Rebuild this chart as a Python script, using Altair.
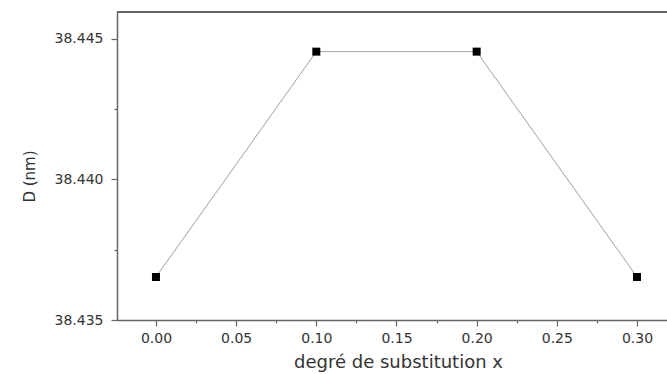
import altair as alt
import pandas as pd

x_vals = [0.0, 0.1, 0.2, 0.3]
d_vals = [38.43653, 38.44455, 38.44455, 38.43653]

x_ticks = [0.0, 0.025, 0.05, 0.075, 0.10, 0.125, 0.15, 0.175, 0.20, 0.225, 0.25, 0.275, 0.30]
y_ticks = [38.435, 38.4375, 38.440, 38.4425, 38.445]

df = pd.DataFrame({"x": x_vals, "D": d_vals})

FONT = "DejaVu Sans"
AX = "#666666"
W = 550
H = 308

x_enc = alt.X(
    "x:Q",
    scale=alt.Scale(domain=[-0.0243, 0.3187], nice=False, zero=False),
    axis=alt.Axis(
        title="degré de substitution x",
        values=x_ticks,
        format=".2f",
        labelExpr="abs(datum.value*20 - round(datum.value*20)) < 0.01 ? datum.label : ''",
        tickSize={"condition": {"test": "abs(datum.value*20 - round(datum.value*20)) < 0.01", "value": 6}, "value": 3},
        grid=False,
        domainColor=AX,
        domainWidth=1.5,
        tickColor=AX,
        tickWidth=1.2,
        labelFont=FONT,
        labelFontSize=14,
        labelColor="#333333",
        labelPadding=16,
        labelBaseline="alphabetic",
        labelFlush=False,
        titleFont=FONT,
        titleFontSize=18,
        titleFontWeight="normal",
        titleColor="#333333",
        titleBaseline="alphabetic",
        titleY=47,
        titleX=281,
    ),
)

y_enc = alt.Y(
    "D:Q",
    scale=alt.Scale(domain=[38.435, 38.44596], nice=False, zero=False),
    axis=alt.Axis(
        title="D (nm)",
        values=y_ticks,
        format=".3f",
        labelExpr="abs(datum.value*200 - round(datum.value*200)) < 0.01 ? datum.label : ''",
        tickSize={"condition": {"test": "abs(datum.value*200 - round(datum.value*200)) < 0.01", "value": 6}, "value": 3},
        grid=False,
        domainColor=AX,
        domainWidth=1.5,
        tickColor=AX,
        tickWidth=1.2,
        labelFont=FONT,
        labelFontSize=14,
        labelColor="#333333",
        labelPadding=8,
        labelFlush=False,
        titleFont=FONT,
        titleFontSize=15,
        titleFontWeight="normal",
        titleColor="#333333",
        titleBaseline="bottom",
        titleX=-80,
        titleY=164,
    ),
)

line = alt.Chart(df).mark_line(color="#a0a0a0", strokeWidth=1).encode(x=x_enc, y=y_enc)
pts = alt.Chart(df).mark_point(shape="square", filled=True, color="black", size=64, opacity=1).encode(x=x_enc, y=y_enc)
top_border = alt.Chart(df).mark_rule(color=AX, strokeWidth=1.5).encode(
    x=alt.value(0), x2=alt.value(W), y=alt.value(0)
)

chart = (
    alt.layer(line, pts, top_border)
    .properties(
        width=W,
        height=H,
        autosize=alt.AutoSizeParams(type="none"),
        padding={"left": 117, "top": 12, "right": 0, "bottom": 54},
        background="white",
    )
    .configure_view(stroke=None)
)

chart.save("out.html", embed_options={"renderer": "svg", "actions": False})
